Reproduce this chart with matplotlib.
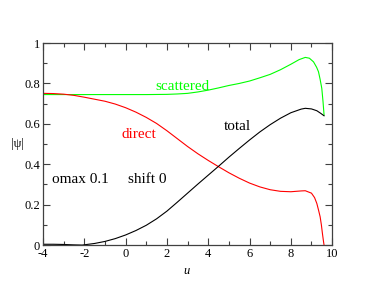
import numpy as np
import matplotlib
matplotlib.use("Agg")
import matplotlib.pyplot as plt
from matplotlib.ticker import MultipleLocator, FormatStrFormatter

plt.rcParams['font.family'] = 'serif'
plt.rcParams['font.serif'] = ['Liberation Serif', 'DejaVu Serif']
plt.rcParams['axes.unicode_minus'] = False

# values
u_scat = [-4, -3, -2, -1, 0, 1, 2, 2.5, 3, 3.5, 4, 4.5, 5, 5.5, 6, 6.5, 7, 7.5, 8,
          8.4, 8.7, 8.9, 9.1, 9.25, 9.34, 9.42, 9.5, 9.56, 9.61]
scattered = [0.745, 0.745, 0.745, 0.745, 0.745, 0.745, 0.746, 0.748, 0.751, 0.758,
             0.767, 0.778, 0.79, 0.80, 0.812, 0.828, 0.845, 0.868, 0.895,
             0.918, 0.929, 0.925, 0.907, 0.88, 0.858, 0.82, 0.776, 0.71, 0.644]

u_dir = [-4, -3.5, -3, -2.5, -2, -1.5, -1, -0.5, 0, 0.5, 1, 1.5, 2, 2.5, 3, 3.5, 4,
         4.5, 5, 5.5, 6, 6.5, 7, 7.5, 8, 8.5, 8.7, 9, 9.15, 9.26, 9.35, 9.42, 9.48,
         9.53, 9.58, 9.61]
direct = [0.751, 0.750, 0.747, 0.741, 0.732, 0.722, 0.712, 0.698, 0.68, 0.658, 0.632,
          0.602, 0.566, 0.527, 0.488, 0.452, 0.419, 0.388, 0.358, 0.331, 0.307, 0.288,
          0.274, 0.266, 0.264, 0.268, 0.269, 0.257, 0.235, 0.206, 0.17, 0.14, 0.10,
          0.058, 0.02, 0.0]

u_tot = [-4, -3.5, -3, -2.5, -2.1, -1.5, -1, -0.5, 0, 0.5, 1, 1.5, 2, 2.5, 3, 3.5, 4,
         4.5, 5, 5.5, 6, 6.5, 7, 7.5, 8, 8.5, 8.7, 9, 9.26, 9.45, 9.61]
total = [0.004, 0.004, 0.003, 0.001, 0.0, 0.008, 0.018, 0.032, 0.05, 0.072, 0.098,
         0.13, 0.168, 0.212, 0.257, 0.302, 0.346, 0.39, 0.435, 0.478, 0.52, 0.56, 0.596,
         0.628, 0.655, 0.673, 0.677, 0.674, 0.665, 0.652, 0.64]

fig = plt.figure(figsize=(3.74, 2.89), dpi=100)
ax = fig.add_axes([0.115, 0.152, 0.773, 0.699])

ax.plot(u_scat, scattered, color='#00ff00', lw=0.8)
ax.plot(u_dir, direct, color='#ff0000', lw=0.8)
ax.plot(u_tot, total, color='black', lw=0.8)

ax.set_xlim(-4, 10)
ax.set_ylim(0, 1)
ax.xaxis.set_major_locator(MultipleLocator(2))
ax.xaxis.set_minor_locator(MultipleLocator(1))
ax.yaxis.set_major_locator(MultipleLocator(0.2))
ax.yaxis.set_minor_locator(MultipleLocator(0.1))
ax.yaxis.set_major_formatter(FormatStrFormatter('%g'))
ax.tick_params(which='both', direction='in', top=True, right=True,
               labelsize=9, color='#404040', width=0.8, pad=2)
ax.tick_params(which='major', length=5)
ax.tick_params(which='minor', length=3)
for s in ax.spines.values():
    s.set_color('#404040')
    s.set_linewidth(0.9)

ax.set_xlabel('u', style='italic', fontsize=9)
ax.xaxis.set_label_coords(0.498, -0.1)
ax.set_ylabel('|ψ|', rotation=0, fontsize=9)
ax.yaxis.set_label_coords(-0.087, 0.47)

ax.text(2.73, 0.787, 'scattered', color='#00ff00', fontsize=11, ha='center', va='center')
ax.text(0.65, 0.547, 'direct', color='#ff0000', fontsize=11, ha='center', va='center')
ax.text(5.4, 0.589, 'total', color='black', fontsize=11, ha='center', va='center')
ax.text(-3.56, 0.327, 'omax 0.1', color='black', fontsize=11, ha='left', va='center')
ax.text(0.12, 0.327, 'shift 0', color='black', fontsize=11, ha='left', va='center')

fig.savefig('out.png', dpi=100)
